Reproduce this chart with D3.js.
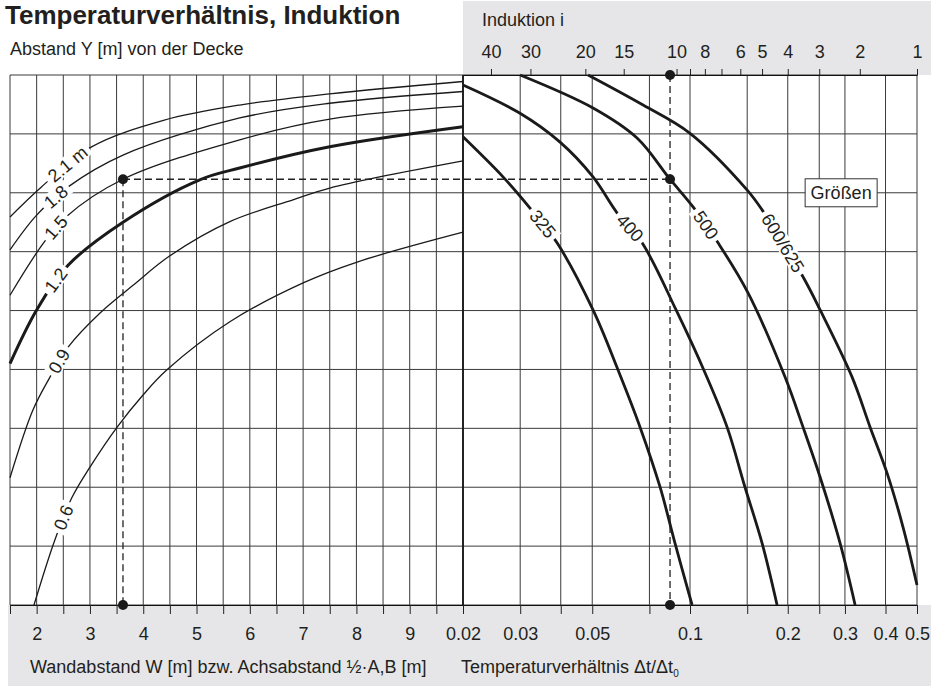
<!DOCTYPE html>
<html><head><meta charset="utf-8">
<script src="https://cdn.jsdelivr.net/npm/d3@7"></script>
<style>body{margin:0;background:#fff}svg{display:block}</style>
</head><body>
<svg id="c" width="931" height="686"></svg>
<script>
// ---------------- DATA ----------------
const wGrid = [1.5,2,2.5,3,3.5,4,4.5,5,5.5,6,6.5,7,7.5,8,8.5,9,9.5,10];
const wLabels = [2,3,4,5,6,7,8,9];
const tGrid = [0.02,0.03,0.04,0.05,0.075,0.1,0.15,0.2,0.25,0.3,0.4,0.5];
const tLabels = [0.02,0.03,0.05,0.1,0.2,0.3,0.4,0.5];
const iTicks = [40,30,20,15,10,9,8,7,6,5,4,3,2,1];
const iLabels = [40,30,20,15,10,8,6,5,4,3,2,1];
const vGrid = [0,1,2,3,4,5,6,7,8,9];

// left family: distance Y from ceiling, [W (m), nomogram value]
const yCurveNames = ["2.1 m","1.8","1.5","1.2","0.9","0.6"];
const yCurve21 = [[1.5,6.59],[2.09,7.10],[3.03,7.78],[4.38,8.23],[5.81,8.49],[7.5,8.68],[10,8.89]];
const yCurve18 = [[1.5,6.03],[2.0,6.62],[2.59,7.10],[3.62,7.64],[5.81,8.27],[7.5,8.52],[10,8.72]];
const yCurve15 = [[1.5,5.26],[2.1,6.11],[2.55,6.59],[3.62,7.23],[5.81,7.90],[7.5,8.25],[10,8.47]];
const yCurve12 = [[1.5,4.10],[2.0,5.01],[2.59,5.77],[3.62,6.50],[5.06,7.22],[5.81,7.42],[7.5,7.78],[10,8.12]];
const yCurve09 = [[1.5,2.16],[1.93,3.31],[2.25,3.87],[2.59,4.38],[3.19,4.96],[3.81,5.43],[4.5,5.93],[5.625,6.51],[6.81,6.88],[7.5,7.08],[10,7.54]];
const yCurve06 = [[1.95,0],[2.34,1.10],[2.66,1.82],[3.0,2.34],[3.51,3.02],[4.0,3.57],[4.44,3.99],[5.625,4.81],[7.0,5.47],[8.0,5.82],[10,6.33]];
const yCurveBold = [false,false,false,true,false,false];
const yLabelAt = [2.58,2.36,2.36,2.36,2.42,2.5];

// right family: unit sizes, [Δt/Δt0, nomogram value]
const sizeNames = ["325","400","500","600/625"];
const size325 = [[0.02,7.95],[0.02656,7.27],[0.03216,6.74],[0.03896,6.15],[0.05028,5.01],[0.06004,3.99],[0.07018,3.02],[0.0809,2.0],[0.0899,1.05],[0.1015,0]];
const size400 = [[0.02,8.83],[0.02996,8.35],[0.0398,7.86],[0.05028,7.27],[0.0596,6.66],[0.0712,6.15],[0.0906,5.01],[0.1113,3.94],[0.1301,3.02],[0.1477,2.0],[0.1667,1.05],[0.1854,0]];
const size500 = [[0.02998,9.0],[0.05028,8.44],[0.0687,7.93],[0.0868,7.23],[0.1022,6.76],[0.122,6.15],[0.1509,5.30],[0.1962,3.87],[0.2229,3.02],[0.2516,2.17],[0.2898,1.05],[0.3224,0]];
const size600 = [[0.04854,9.0],[0.0717,8.49],[0.1,8.01],[0.1498,7.05],[0.1667,6.71],[0.223,5.57],[0.2516,5.01],[0.3156,3.87],[0.3586,3.02],[0.4044,2.24],[0.453,1.32],[0.5,0.34]];
const sizeLabelAt = [0.0353,0.0654,0.1121,0.1934];

// worked example
const exampleW = 3.62, exampleV = 7.23, exampleT = 0.0868;
const sizeBoxAt = [0.292, 7.0];

// ---------------- CHART ----------------
const FONT = "'Liberation Sans', Arial, Helvetica, sans-serif";
const INK = "#231f20";
const svg = d3.select("#c");
const L = 10, M = 463, R = 917, T = 75, B = 605;
const xL = d3.scaleLinear().domain([1.5,10]).range([L,M]);
const xR = d3.scaleLog().domain([0.02,0.5]).range([M,R]);
const y = d3.scaleLinear().domain([0,9]).range([B,T]);

// grey bands
svg.append("rect").attr("x",M).attr("y",1).attr("width",931-M).attr("height",T-1).attr("fill","#e6e6e8");
svg.append("rect").attr("x",8).attr("y",B).attr("width",931-8).attr("height",686-B).attr("fill","#e6e6e8");

// grid
const grid = svg.append("g").attr("stroke","#3a3a3a").attr("stroke-width",1);
grid.selectAll("line.h").data(vGrid).join("line").attr("class","h")
  .attr("x1",L).attr("x2",R).attr("y1",d=>y(d)).attr("y2",d=>y(d));
grid.selectAll("line.vl").data(wGrid).join("line").attr("class","vl")
  .attr("x1",d=>xL(d)).attr("x2",d=>xL(d)).attr("y1",T).attr("y2",B);
grid.selectAll("line.vr").data(tGrid).join("line").attr("class","vr")
  .attr("x1",d=>xR(d)).attr("x2",d=>xR(d)).attr("y1",T).attr("y2",B);
svg.append("line").attr("x1",M).attr("x2",M).attr("y1",T).attr("y2",B).attr("stroke","#111").attr("stroke-width",1.6);

// axes
function styleAxis(g){
  g.selectAll(".domain").attr("stroke","#111").attr("stroke-width",1.2);
  g.selectAll(".tick line").attr("stroke","#222").attr("stroke-width",1);
  g.selectAll(".tick text").attr("font-family",FONT).attr("font-size",18).attr("fill",INK);
}
const axL = d3.axisBottom(xL).tickValues(wGrid).tickSize(9).tickSizeOuter(0).tickPadding(13)
  .tickFormat(d => wLabels.includes(d) ? String(d) : "");
svg.append("g").attr("transform",`translate(0,${B})`).call(axL).call(styleAxis);
const axR = d3.axisBottom(xR).tickValues(tGrid).tickSize(9).tickSizeOuter(0).tickPadding(13)
  .tickFormat(d => tLabels.includes(d) ? String(d) : "");
svg.append("g").attr("transform",`translate(0,${B})`).call(axR).call(styleAxis);
const axTop = d3.axisTop(xR).tickValues(iTicks.map(i => 1/(i+1))).tickSize(6).tickSizeOuter(0).tickPadding(11)
  .tickFormat(t => { const i = Math.round(1/t - 1); return iLabels.includes(i) ? String(i) : ""; });
svg.append("g").attr("transform",`translate(0,${T})`).call(axTop).call(styleAxis);

// curves
const lineL = d3.line().x(d=>xL(d[0])).y(d=>y(d[1])).curve(d3.curveCatmullRom.alpha(0.5));
const lineR = d3.line().x(d=>xR(d[0])).y(d=>y(d[1])).curve(d3.curveCatmullRom.alpha(0.5));
const yCurves = [yCurve21,yCurve18,yCurve15,yCurve12,yCurve09,yCurve06];
const sizeCurves = [size325,size400,size500,size600];

const curveG = svg.append("g").attr("fill","none");
const yPaths = yCurves.map((c,k) => curveG.append("path").attr("d",lineL(c))
  .attr("stroke","#1a1a1a").attr("stroke-width", yCurveBold[k] ? 3 : 1.3).node());
const sPaths = sizeCurves.map(c => curveG.append("path").attr("d",lineR(c))
  .attr("stroke","#1a1a1a").attr("stroke-width",2.8).node());

// labels along curves
const labG = svg.append("g");
function labelOnPath(node, targetX, txt){
  const total = node.getTotalLength();
  let lo = 0, hi = total;
  while (hi - lo > 0.3){
    const mid = (lo+hi)/2;
    if (node.getPointAtLength(mid).x < targetX) lo = mid; else hi = mid;
  }
  const p = node.getPointAtLength(lo);
  const a = node.getPointAtLength(Math.max(0,lo-5)), b = node.getPointAtLength(Math.min(total,lo+5));
  const ang = Math.atan2(b.y-a.y, b.x-a.x)*180/Math.PI;
  const g = labG.append("g").attr("transform",`translate(${p.x},${p.y}) rotate(${ang})`);
  const rect = g.append("rect").attr("fill","#fff");
  const t = g.append("text").text(txt).attr("font-family",FONT).attr("font-size",18)
    .attr("text-anchor","middle").attr("dy","0.36em").attr("fill",INK);
  const w = t.node().getComputedTextLength();
  rect.attr("x",-w/2-4).attr("y",-8).attr("width",w+8).attr("height",16);
}
yPaths.forEach((n,k) => labelOnPath(n, xL(yLabelAt[k]), yCurveNames[k]));
sPaths.forEach((n,k) => labelOnPath(n, xR(sizeLabelAt[k]), sizeNames[k]));

// "Größen" box
const gb = svg.append("g").attr("transform",`translate(${xR(sizeBoxAt[0])},${y(sizeBoxAt[1])})`);
gb.append("rect").attr("x",-36).attr("y",-14).attr("width",72).attr("height",28)
  .attr("fill","#fff").attr("stroke","#333").attr("stroke-width",1);
gb.append("text").text("Größen").attr("text-anchor","middle").attr("dy","0.36em")
  .attr("font-family",FONT).attr("font-size",18).attr("fill",INK);

// worked example: dashed lines and dots
const dash = svg.append("g").attr("stroke","#222").attr("stroke-width",1.3).attr("stroke-dasharray","7,4");
dash.append("line").attr("x1",xL(exampleW)).attr("x2",xL(exampleW)).attr("y1",y(exampleV)).attr("y2",y(0));
dash.append("line").attr("x1",xL(exampleW)).attr("x2",xR(exampleT)).attr("y1",y(exampleV)).attr("y2",y(exampleV));
dash.append("line").attr("x1",xR(exampleT)).attr("x2",xR(exampleT)).attr("y1",y(9)).attr("y2",y(0));
const dots = [[xL(exampleW),y(exampleV)],[xL(exampleW),y(0)],[xR(exampleT),y(exampleV)],[xR(exampleT),y(0)],[xR(exampleT),y(9)]];
svg.append("g").selectAll("circle").data(dots).join("circle")
  .attr("cx",d=>d[0]).attr("cy",d=>d[1]).attr("r",5).attr("fill","#1a1a1a");

// texts
svg.append("text").text("Temperaturverhältnis, Induktion").attr("x",5).attr("y",24)
  .attr("font-family",FONT).attr("font-size",26).attr("font-weight","bold").attr("fill",INK);
svg.append("text").text("Abstand Y [m] von der Decke").attr("x",10).attr("y",55)
  .attr("font-family",FONT).attr("font-size",18).attr("fill",INK);
svg.append("text").text("Induktion i").attr("x",482).attr("y",26)
  .attr("font-family",FONT).attr("font-size",18).attr("fill",INK);
svg.append("text").text("Wandabstand W [m] bzw. Achsabstand ½·A,B [m]").attr("x",30).attr("y",673)
  .attr("font-family",FONT).attr("font-size",18).attr("fill",INK);
const tt = svg.append("text").attr("x",461).attr("y",673)
  .attr("font-family",FONT).attr("font-size",18).attr("fill",INK);
tt.append("tspan").text("Temperaturverhältnis Δt/Δt");
tt.append("tspan").text("0").attr("font-size",10).attr("dy",4);
</script>
</body></html>
